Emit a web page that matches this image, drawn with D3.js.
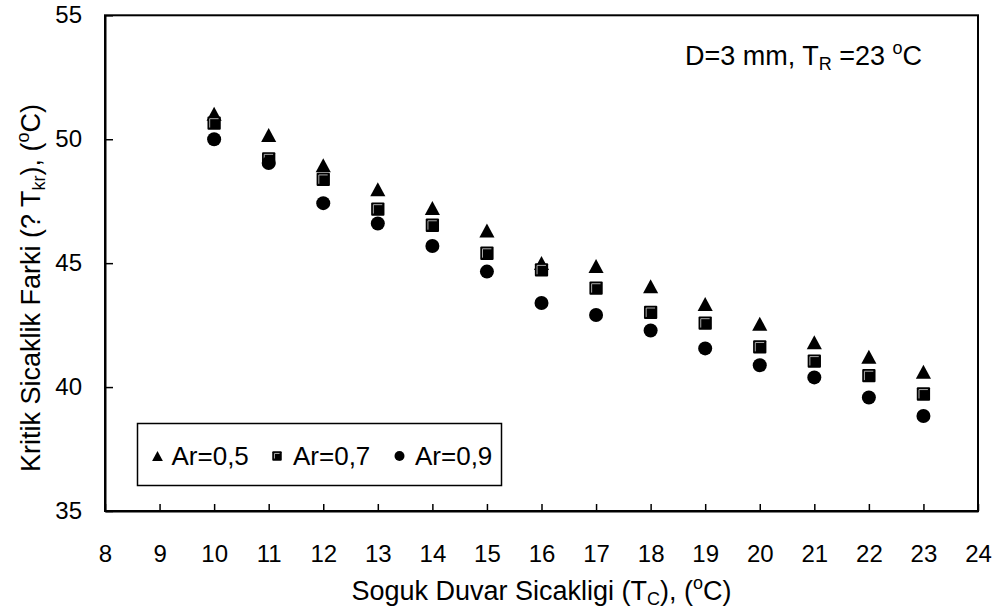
<!DOCTYPE html>
<html>
<head>
<meta charset="utf-8">
<script src="https://cdn.jsdelivr.net/npm/d3@7"></script>
<style>
  html, body { margin: 0; padding: 0; background: #fff; }
  svg { display: block; }
  text { font-family: "Liberation Sans", Arial, sans-serif; fill: #000; }
</style>
</head>
<body>
<svg id="chart" width="999" height="614"></svg>
<script>
// Cold wall temperature (°C)
const coldWallTemps = [10, 11, 12, 13, 14, 15, 16, 17, 18, 19, 20, 21, 22, 23];

// Critical temperature difference (°C) for each aspect ratio
const ar05 = [51.03, 50.17, 48.95, 47.98, 47.23, 46.32, 45.01, 44.88, 44.07, 43.35, 42.56, 41.81, 41.22, 40.62];
const ar07 = [50.65, 49.21, 48.38, 47.18, 46.53, 45.40, 44.73, 43.99, 43.01, 42.58, 41.62, 41.05, 40.46, 39.72];
const ar09 = [50.00, 49.04, 47.42, 46.60, 45.69, 44.66, 43.39, 42.91, 42.28, 41.56, 40.88, 40.39, 39.58, 38.83];

const seriesNames = ["Ar=0,5", "Ar=0,7", "Ar=0,9"];
const seriesShapes = ["triangle", "square", "circle"];

const xTicks = [8, 9, 10, 11, 12, 13, 14, 15, 16, 17, 18, 19, 20, 21, 22, 23, 24];
const yTicks = [35, 40, 45, 50, 55];

const svg = d3.select("#chart");
const plot = { left: 105, right: 978, top: 15.3, bottom: 511 };

const x = d3.scaleLinear().domain([8, 24]).range([plot.left, plot.right]);
const y = d3.scaleLinear().domain([35, 55]).range([plot.bottom, plot.top]);

// Frame around the plot area
svg.append("rect")
  .attr("x", plot.left).attr("y", plot.top)
  .attr("width", plot.right - plot.left).attr("height", plot.bottom - plot.top)
  .attr("fill", "none").attr("stroke", "#000").attr("stroke-width", 2);

// Bottom axis with inward ticks
const xAxis = svg.append("g")
  .attr("transform", `translate(0,${plot.bottom})`)
  .call(d3.axisBottom(x).tickValues(xTicks).tickSizeInner(-7).tickSizeOuter(0).tickFormat(d3.format("d")));
xAxis.select(".domain").attr("stroke", "#000").attr("stroke-width", 2);
xAxis.selectAll(".tick line").attr("stroke", "#000").attr("stroke-width", 1.5);
xAxis.selectAll(".tick text").attr("font-size", 24).attr("font-family", "Liberation Sans, Arial, sans-serif").attr("dy", "0.71em").attr("y", 34);

// Left axis with inward ticks
const yAxis = svg.append("g")
  .attr("transform", `translate(${plot.left},0)`)
  .call(d3.axisLeft(y).tickValues(yTicks).tickSizeInner(-8).tickSizeOuter(0).tickFormat(d3.format("d")));
yAxis.select(".domain").attr("stroke", "#000").attr("stroke-width", 2);
yAxis.selectAll(".tick line").attr("stroke", "#000").attr("stroke-width", 1.5);
yAxis.selectAll(".tick text").attr("font-size", 24).attr("font-family", "Liberation Sans, Arial, sans-serif").attr("x", -23);

// Marker drawing helpers
function drawMarker(g, shape, cx, cy, s) {
  if (shape === "triangle") {
    const w = s * 1.08, h = s;
    g.append("path")
      .attr("d", `M${cx},${cy - h / 2}L${cx + w / 2},${cy + h / 2}L${cx - w / 2},${cy + h / 2}Z`)
      .attr("fill", "#000");
  } else if (shape === "square") {
    const a = s * 0.95;
    g.append("rect")
      .attr("x", cx - a / 2).attr("y", cy - a / 2)
      .attr("width", a).attr("height", a)
      .attr("rx", 1).attr("fill", "#000");
    const i = 2.2;
    g.append("path")
      .attr("d", `M${cx - a / 2 + i},${cy + a / 2 - i}V${cy - a / 2 + i}H${cx + a / 2 - i}`)
      .attr("fill", "none").attr("stroke", "#bbb").attr("stroke-width", 0.9);
  } else {
    g.append("circle").attr("cx", cx).attr("cy", cy).attr("r", s / 2).attr("fill", "#000");
  }
}

// Data points
const allSeries = [ar05, ar07, ar09];
const pts = svg.append("g");
allSeries.forEach((vals, si) => {
  vals.forEach((v, i) => {
    drawMarker(pts, seriesShapes[si], x(coldWallTemps[i]), y(v), 14);
  });
});

// Legend
const legend = svg.append("g");
legend.append("rect")
  .attr("x", 137.5).attr("y", 423.5).attr("width", 364).attr("height", 62)
  .attr("fill", "#fff").attr("stroke", "#000").attr("stroke-width", 1.5);
const legendItems = [
  { mx: 157.5, tx: 171.5 },
  { mx: 277, tx: 293 },
  { mx: 399.5, tx: 415 }
];
legendItems.forEach((it, si) => {
  drawMarker(legend, seriesShapes[si], it.mx, 456, 10);
  legend.append("text").attr("x", it.tx).attr("y", 465)
    .attr("font-size", 26).text(seriesNames[si]);
});

// Annotation in the upper right
const note = svg.append("text").attr("x", 685).attr("y", 65).attr("font-size", 27);
note.append("tspan").text("D=3 mm, T");
note.append("tspan").attr("font-size", 18).attr("dy", 5).text("R");
note.append("tspan").attr("dy", -5).text(" =23 ");
note.append("tspan").attr("font-size", 18).attr("dy", -11).text("o");
note.append("tspan").attr("dy", 11).text("C");

// X axis title
const xTitle = svg.append("text").attr("x", (plot.left + plot.right) / 2).attr("y", 600)
  .attr("text-anchor", "middle").attr("font-size", 27);
xTitle.append("tspan").text("Soguk Duvar Sicakligi (T");
xTitle.append("tspan").attr("font-size", 18).attr("dy", 5).text("C");
xTitle.append("tspan").attr("dy", -5).text("), (");
xTitle.append("tspan").attr("font-size", 18).attr("dy", -11).text("o");
xTitle.append("tspan").attr("dy", 11).text("C)");

// Y axis title
const yTitle = svg.append("text")
  .attr("transform", "translate(40,288) rotate(-90)")
  .attr("text-anchor", "middle").attr("font-size", 27);
yTitle.append("tspan").text("Kritik Sicaklik Farki (? T");
yTitle.append("tspan").attr("font-size", 18).attr("dy", 5).text("kr");
yTitle.append("tspan").attr("dy", -5).text("), (");
yTitle.append("tspan").attr("font-size", 18).attr("dy", -11).text("o");
yTitle.append("tspan").attr("dy", 11).text("C)");
</script>
</body>
</html>
